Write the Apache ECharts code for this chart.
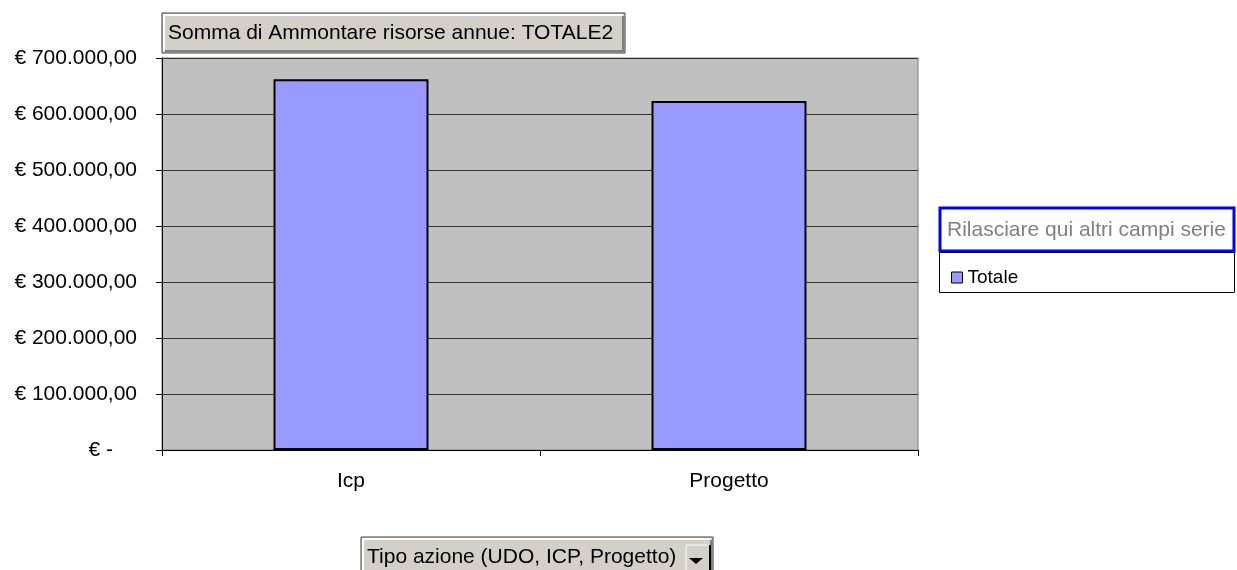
<!DOCTYPE html>
<html>
<head>
<meta charset="utf-8">
<script src="https://cdn.jsdelivr.net/npm/echarts@6/dist/echarts.min.js"></script>
<style>
  html, body { margin: 0; padding: 0; background: #fff; }
  #chart { width: 1237px; height: 570px; }
</style>
</head>
<body>
<div id="chart"></div>
<script>
const categories = ['Icp', 'Progetto'];
const totale = [662000, 623000];
const yTicks = [0, 100000, 200000, 300000, 400000, 500000, 600000, 700000];

const FONT = '"Liberation Sans", Arial, sans-serif';

function euro(v) {
  if (v === 0) return '{z|€ -}';
  const s = String(Math.round(v)).replace(/\B(?=(\d{3})+(?!\d))/g, '.');
  return '€ ' + s + ',00';
}

// 3D windows-like button
function button(x, y, w, h, label, fontSize) {
  return [
    { type: 'rect', shape: { x: x, y: y, width: w, height: h },
      style: { fill: '#d4d0c8', stroke: '#404040', lineWidth: 1 } },
    { type: 'polyline', shape: { points: [[x + 2, y + h - 2], [x + 2, y + 2], [x + w - 2, y + 2]] },
      style: { stroke: '#ffffff', lineWidth: 2, fill: null } },
    { type: 'polyline', shape: { points: [[x + 3, y + h - 2], [x + w - 2, y + h - 2], [x + w - 2, y + 3]] },
      style: { stroke: '#808080', lineWidth: 2, fill: null } },
    { type: 'text', x: x + 6, y: y + h / 2,
      style: { text: label, fill: '#000', font: fontSize + 'px ' + FONT, verticalAlign: 'middle' } }
  ];
}

const chart = echarts.init(document.getElementById('chart'));

const graphics = []
  .concat(button(162, 13, 463, 40, 'Somma di Ammontare risorse annue: TOTALE2', 21))
  .concat(button(361, 537, 352, 40, 'Tipo azione (UDO, ICP, Progetto)', 21))
  .concat([
    // dropdown arrow box
    { type: 'rect', shape: { x: 686, y: 545, width: 24, height: 26 },
      style: { fill: '#d4d0c8', stroke: '#ffffff', lineWidth: 1 } },
    { type: 'polyline', shape: { points: [[710, 545], [710, 570]] },
      style: { stroke: '#000', lineWidth: 2, fill: null } },
    { type: 'polygon', shape: { points: [[689, 558], [703, 558], [696, 564]] },
      style: { fill: '#000' } },
    // series drop zone
    { type: 'rect', shape: { x: 940, y: 208, width: 294, height: 43 },
      style: { fill: '#fff', stroke: '#0000ff', lineWidth: 3 } },
    { type: 'text', x: 947, y: 230,
      style: { text: 'Rilasciare qui altri campi serie', fill: '#808080', font: '21px ' + FONT, verticalAlign: 'middle' } },
    // legend frame
    { type: 'rect', shape: { x: 939.5, y: 252.5, width: 295, height: 40 },
      style: { fill: null, stroke: '#000', lineWidth: 1 } }
  ]);

chart.setOption({
  animation: false,
  backgroundColor: '#fff',
  textStyle: { fontFamily: FONT },
  grid: {
    left: 162, right: 319, top: 58, bottom: 120,
    show: true, backgroundColor: '#c0c0c0', borderColor: '#808080', borderWidth: 1
  },
  legend: {
    data: ['Totale'],
    left: 946, top: 263,
    icon: 'rect', itemWidth: 11, itemHeight: 11,
    itemStyle: { borderColor: '#000', borderWidth: 1 },
    textStyle: { color: '#000', fontSize: 19, fontFamily: FONT }
  },
  xAxis: {
    type: 'category',
    data: categories,
    axisLine: { lineStyle: { color: '#000', width: 1 } },
    axisTick: { show: true, length: 6, lineStyle: { color: '#000' } },
    axisLabel: { color: '#000', fontSize: 21, margin: 21, fontFamily: FONT },
    splitLine: { show: false }
  },
  yAxis: {
    type: 'value',
    min: 0, max: 700000, interval: 100000,
    axisLine: { show: true, lineStyle: { color: '#000', width: 1 } },
    axisTick: { show: true, length: 6, lineStyle: { color: '#000' } },
    axisLabel: {
      color: '#000', fontSize: 21, margin: 25, fontFamily: FONT,
      formatter: euro,
      rich: { z: { fontSize: 21, fontFamily: FONT, color: '#000', padding: [0, 24, 0, 0] } }
    },
    splitLine: { show: true, lineStyle: { color: '#333', width: 1 } }
  },
  series: [{
    name: 'Totale',
    type: 'bar',
    data: totale,
    barCategoryGap: '59%',
    itemStyle: { color: '#9999ff', borderColor: '#000', borderWidth: 2 }
  }],
  graphic: graphics
});
</script>
</body>
</html>
